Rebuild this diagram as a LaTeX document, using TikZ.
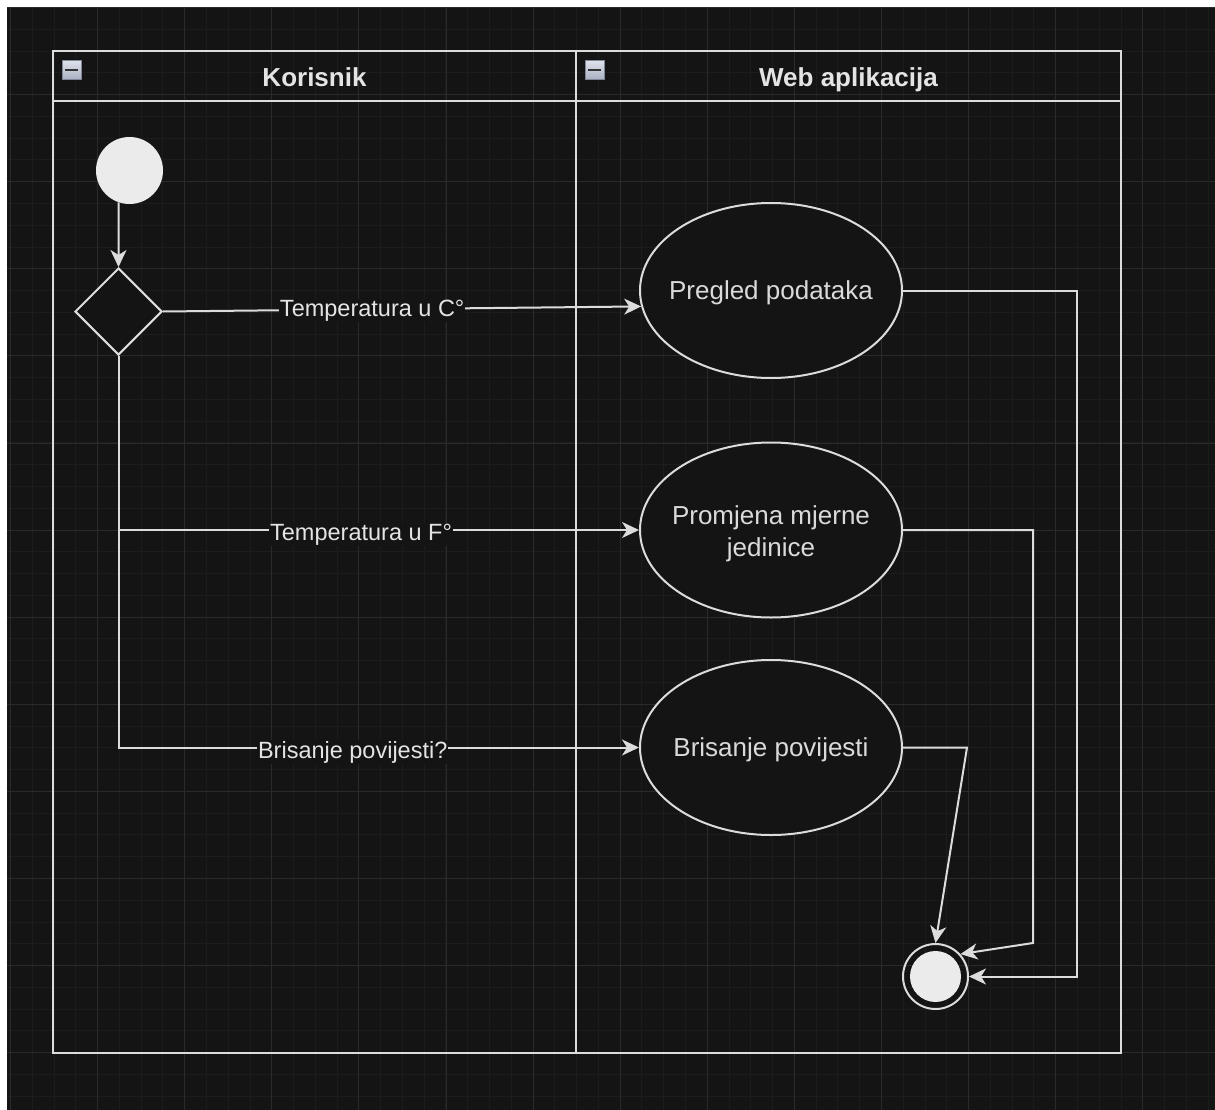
\documentclass[tikz,border=0pt]{standalone}
\usepackage{fontspec}
\setmainfont{Liberation Sans}
\usetikzlibrary{shapes.geometric,arrows.meta,calc}
\definecolor{bg}{HTML}{141414}
\definecolor{gmin}{HTML}{1C1C1C}
\definecolor{gmaj}{HTML}{2A2A2A}
\definecolor{ln}{HTML}{DCDCDC}
\definecolor{txt}{HTML}{E4E4E4}
\definecolor{uctxt}{HTML}{DADADA}
\definecolor{dot}{HTML}{EBEBEB}
\definecolor{icontop}{HTML}{DDE1EA}
\definecolor{iconbot}{HTML}{A8AFC0}
\definecolor{iconrim}{HTML}{7E8698}
\begin{document}
\begin{tikzpicture}[x=1pt,y=-1pt,
  line/.style={draw=ln, line width=2pt},
  flow/.style={line, -{Stealth[length=17pt,width=16pt,inset=5pt]}},
  uc/.style={ellipse, draw=ln, line width=2pt, fill=bg, minimum width=262pt, minimum height=175pt, inner sep=0pt},
  uctext/.style={text=uctxt, font=\fontsize{26}{32}\selectfont, align=center, inner sep=0pt},
  lbl/.style={fill=bg, text=txt, font=\fontsize{23.5}{28}\selectfont, inner sep=1pt},
  hdr/.style={text=txt, font=\bfseries\fontsize{26}{30}\selectfont, anchor=base},
  iconbox/.style={draw=iconrim, line width=1pt, top color=icontop, bottom color=iconbot, minimum size=19pt, inner sep=0pt},
  ]
\useasboundingbox (0,0) rectangle (1215,1110);
\fill[white] (0,0) rectangle (1215,1110);
% background grid
\begin{scope}
\clip (7,8) rectangle (1215,1110);
\fill[bg] (7,8) rectangle (1215,1110);
\foreach \i in {0,...,55} {\pgfmathsetmacro\gx{round(10+\i*21.775)+0.5}\draw[gmin, line width=1pt] (\gx,8) -- (\gx,1110);}
\foreach \i in {0,...,50} {\pgfmathsetmacro\gy{round(7+\i*21.775)+0.5}\draw[gmin, line width=1pt] (7,\gy) -- (1215,\gy);}
\foreach \i in {0,...,13} {\pgfmathsetmacro\gx{round(10+\i*87.1)+0.5}\draw[gmaj, line width=1pt] (\gx,8) -- (\gx,1110);}
\foreach \i in {0,...,12} {\pgfmathsetmacro\gy{round(7+\i*87.1)+0.5}\draw[gmaj, line width=1pt] (7,\gy) -- (1215,\gy);}
\end{scope}
% pool
\draw[line] (53,51) rectangle (1121,1053);
\draw[line] (53,101) -- (1121,101);
\draw[line] (576,51) -- (576,1053);
\node[iconbox] (m1) at (71.5,70.5) {};
\draw[line width=2pt, color=black!80] ($(m1.west)+(3.5,0)$) -- ($(m1.east)+(-3.5,0)$);
\node[iconbox] (m2) at (594.5,70.5) {};
\draw[line width=2pt, color=black!80] ($(m2.west)+(3.5,0)$) -- ($(m2.east)+(-3.5,0)$);
\node[hdr] (h1) at (314.5,86.5) {Korisnik};
\node[hdr] (h2) at (848.5,86.5) {Web aplikacija};
% nodes
\node[circle, fill=dot, minimum size=67pt, inner sep=0pt] (s) at (129.5,170.5) {};
\node[diamond, draw=ln, line width=2pt, fill=bg, minimum width=87pt, minimum height=87pt, inner sep=0pt] (d) at (118.5,311.5) {};
\node[uc] (e1) at (771,290.5) {};
\node[uctext] (t1) at ($(e1.center)+(0,2.5)$) {Pregled podataka};
\node[uc] (e2) at (771,530) {};
\node[uctext] (t2) at ($(e2.center)+(0,3.5)$) {Promjena mjerne\\jedinice};
\node[uc] (e3) at (771,747.5) {};
\node[uctext] (t3) at ($(e3.center)+(0,2)$) {Brisanje povijesti};
\node[circle, draw=ln, line width=2pt, minimum size=65pt, inner sep=0pt] (fin) at (935.5,976.5) {};
\node[circle, fill=dot, minimum size=51pt, inner sep=0pt] (finin) at (fin.center) {};
% connectors
\draw[flow] (s.-109.2) -- (d.north);
\draw[flow] (d.east) -- node[lbl, pos=0.4375, yshift=-1pt] {Temperatura u C°} (e1.187);
\draw[flow] (d.south) |- node[lbl, pos=0.733, yshift=-4.5pt] {Temperatura u F°} (e2.west);
\draw[flow] (d.south) |- node[lbl, pos=0.725, yshift=-4.5pt] {Brisanje povijesti?} (e3.west);
\coordinate (k1) at (1077,976.5);
\coordinate (k2) at (1033,943);
\coordinate (k3) at (967,747.5);
\draw[flow] (e1.east) -| (k1) -- (fin.east);
\draw[flow] (e2.east) -| (k2) -- (fin.42);
\draw[flow] (e3.east) -- (k3) -- (fin.north);
\end{tikzpicture}
\end{document}
